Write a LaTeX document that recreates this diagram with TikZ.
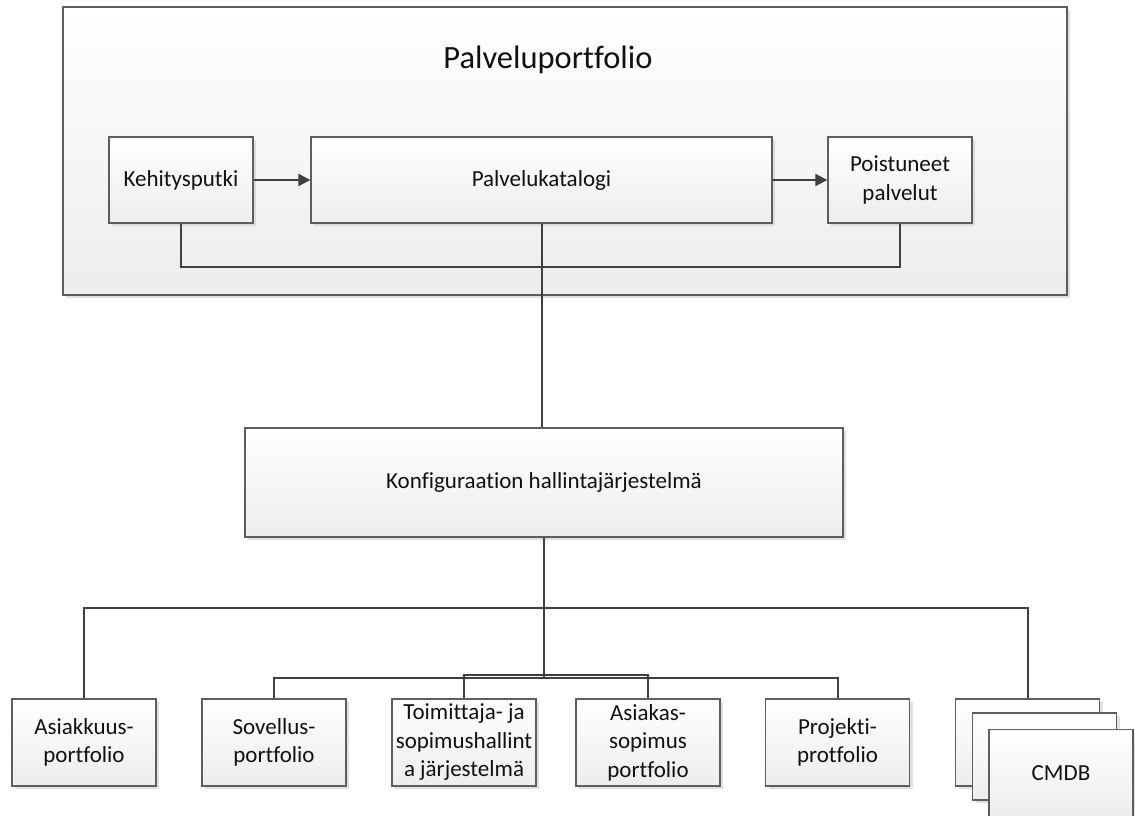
\documentclass[tikz,border=0pt]{standalone}
\usepackage{fontspec}
\setmainfont{Carlito}[Ligatures={NoCommon}]
\usetikzlibrary{shadows,arrows.meta}
\definecolor{boxline}{HTML}{5E5E5E}
\definecolor{wire}{HTML}{404040}
\definecolor{txt}{HTML}{111111}
\tikzset{
  box/.style={draw=boxline, line width=1.3pt, top color=white, bottom color=black!7,
    drop shadow={shadow xshift=3pt, shadow yshift=-3pt, fill=black!20, opacity=0.6},
    inner sep=0pt, align=center, text=txt, font=\fontsize{23}{28.5}\selectfont},
  leaf/.style={box, minimum width=144pt, minimum height=87pt},
  wirestyle/.style={draw=wire, line width=2pt},
  arr/.style={wirestyle, -{Triangle[length=12pt,width=12pt]}}
}
\begin{document}
\begin{tikzpicture}[x=1pt,y=-1pt]
\useasboundingbox (0,0) rectangle (1135,816);

% Palveluportfolio container
\node[box, minimum width=1004pt, minimum height=288pt] (port) at (565,151) {};
\node[text=txt, font=\fontsize{32.5}{38}\selectfont] (title) at (548,60) {Palveluportfolio};

\node[box, minimum width=144pt, minimum height=86pt] (keh) at (181,180) {Kehitysputki};
\node[box, minimum width=461pt, minimum height=86pt] (kat) at (541.5,180) {Palvelukatalogi};
\node[box, minimum width=144pt, minimum height=86pt] (poi) at (900,180) {Poistuneet\\palvelut};

\coordinate (jtop) at (541.5,267);
\coordinate (jmain) at (541.5,608);
\coordinate (jsub) at (541.5,678);
\coordinate (jbr) at (541.5,675);

\draw[arr] (keh) -- (kat);
\draw[arr] (kat) -- (poi);
\draw[wirestyle] (keh.south) -- (keh.south |- jtop) -- (poi.south |- jtop) -- (poi.south);

% Configuration management system
\node[box, minimum width=598pt, minimum height=109pt] (konf) at (544,482.5) {Konfiguraation hallintajärjestelmä};
\draw[wirestyle] (kat.south) -- (kat.south |- konf.north);

% Portfolios and CMDB
\node[leaf] (asi) at (84,742.5) {Asiakkuus-\\portfolio};
\node[leaf] (sov) at (274,742.5) {Sovellus-\\portfolio};
\node[leaf] (toi) at (464,742.5) {Toimittaja- ja\\sopimushallint\\a järjestelmä};
\node[leaf] (asis) at (648,742.5) {Asiakas-\\sopimus\\portfolio};
\node[leaf] (pro) at (837.5,742.5) {Projekti-\\protfolio};
\node[leaf] (cmdb1) at (1027.5,742.5) {};
\node[leaf] (cmdb2) at (1044.5,756.5) {};
\node[leaf] (cmdb3) at (1061,773) {CMDB};

\draw[wirestyle] (konf.south) -- (konf.south |- jsub);
\draw[wirestyle] (asi.north) -- (asi.north |- jmain) -- (cmdb1.north |- jmain) -- (cmdb1.north);
\draw[wirestyle] (sov.north) -- (sov.north |- jsub) -- (pro.north |- jsub) -- (pro.north);
\draw[wirestyle] (toi.north) -- (toi.north |- jbr) -- (asis.north |- jbr) -- (asis.north);
\end{tikzpicture}
\end{document}
